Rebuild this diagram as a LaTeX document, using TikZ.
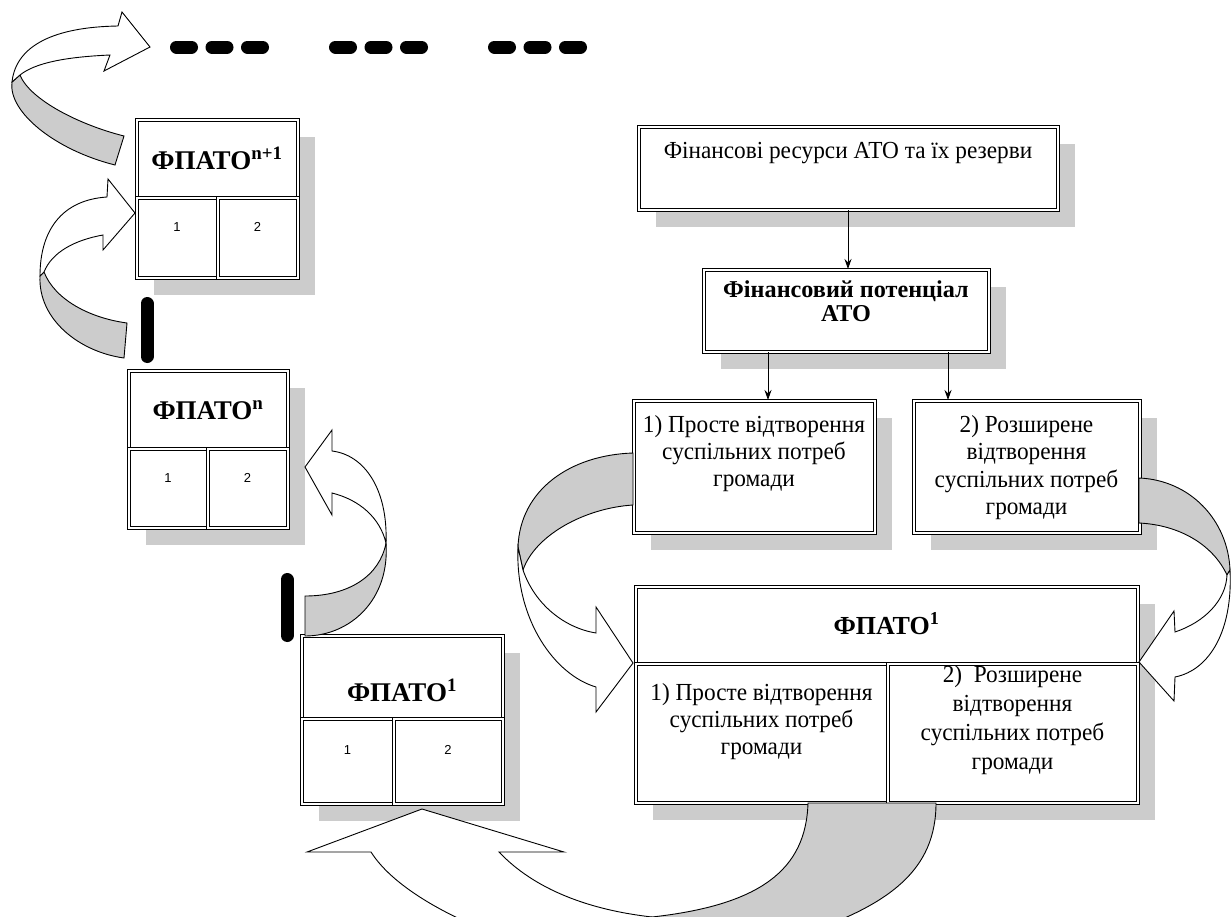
\documentclass[tikz,border=0pt]{standalone}
\usepackage{fontspec}
\setmainfont{Liberation Serif}
\newfontfamily\condfont[FakeStretch=0.95]{Liberation Serif}
\newfontfamily\numfont{Liberation Sans}
\usepackage{tikz}
\usetikzlibrary{arrows.meta,calc,positioning,shadows}
\definecolor{shadegray}{HTML}{CCCCCC}
\tikzstyle{cell} = [draw=black, line width=1pt, double=white, double distance=2pt, fill=white, inner sep=0pt, anchor=north west, drop shadow={shadow xshift=17pt, shadow yshift=-17pt, fill=shadegray, opacity=1}]
\tikzstyle{celltext} = [font=\condfont\fontsize{24.5}{27}\selectfont, align=center, inner sep=0pt]
\tikzstyle{hdlabel} = [font=\fontsize{27}{30}\selectfont\bfseries, inner sep=0pt, anchor=base]
\tikzstyle{numlabel} = [font=\numfont\fontsize{13}{15}\selectfont, inner sep=0pt]
\tikzstyle{bandback} = [fill=shadegray, draw=black, line width=0.9pt]
\tikzstyle{bandfront} = [fill=white, draw=black, line width=0.9pt]
\tikzstyle{dashbar} = [line width=13pt, line cap=round]
\tikzstyle{conn} = [line width=0.9pt, -{Stealth[length=10pt,width=7pt]}]

\begin{document}
\begin{tikzpicture}[x=1pt, y=-1pt]
  \path[use as bounding box, clip] (0,0) rectangle (1232,916);
  \fill[white] (0,0) rectangle (1232,916);

  % level n+1
  \node[cell, minimum width=161pt, minimum height=78pt] (a) at (136,119) {};
  \node[cell, minimum width=81pt, minimum height=80pt] (a1) at (136,197) {};
  \node[cell, minimum width=80pt, minimum height=80pt] (a2) at (217,197) {};
  \node[hdlabel] (at) at ($(a.south)+(0,-29)$) {ФПАТО\textsuperscript{n+1}};
  \node[numlabel, below=25pt of a1.north] (a1n) {1};
  \node[numlabel, below=25pt of a2.north] (a2n) {2};

  % level n
  \node[cell, minimum width=159pt, minimum height=78pt] (b) at (128,370) {};
  \node[cell, minimum width=79pt, minimum height=79pt] (b1) at (128,448) {};
  \node[cell, minimum width=80pt, minimum height=79pt] (b2) at (207,448) {};
  \node[hdlabel] (bt) at ($(b.south)+(0,-30)$) {ФПАТО\textsuperscript{n}};
  \node[numlabel, below=25pt of b1.north] (b1n) {1};
  \node[numlabel, below=25pt of b2.north] (b2n) {2};

  % level 1 (small)
  \node[cell, minimum width=201pt, minimum height=83pt] (c) at (301,635) {};
  \node[cell, minimum width=92pt, minimum height=85pt] (c1) at (301,718) {};
  \node[cell, minimum width=109pt, minimum height=85pt] (c2) at (393,718) {};
  \node[hdlabel] (ct) at ($(c.south)+(0,-18)$) {ФПАТО\textsuperscript{1}};
  \node[numlabel, below=27pt of c1.north] (c1n) {1};
  \node[numlabel, below=27pt of c2.north] (c2n) {2};

  % right column
  \node[cell, minimum width=419pt, minimum height=83pt] (r1) at (638,126) {};
  \node[celltext, below=16pt of r1.north] (r1t) {Фінансові ресурси АТО та їх резерви};
  \node[cell, minimum width=285pt, minimum height=82pt] (r2) at (703,269) {};
  \node[celltext, font=\fontsize{24.2}{24}\selectfont\bfseries, below=12pt of r2.north] (r2t) {Фінансовий потенціал\\АТО};
  \node[cell, minimum width=241pt, minimum height=132pt] (r3) at (633,400) {};
  \node[celltext, below=15pt of r3.north] (r3t) {1) Просте відтворення\\суспільних потреб\\громади};
  \node[cell, minimum width=226pt, minimum height=132pt] (r4) at (913,400) {};
  \node[celltext, font=\condfont\fontsize{24.5}{27.5}\selectfont, below=15pt of r4.north] (r4t) {2) Розширене\\відтворення\\суспільних потреб\\громади};

  % level 1 (big)
  \node[cell, minimum width=502pt, minimum height=77pt] (d) at (635,586) {};
  \node[cell, minimum width=252pt, minimum height=139pt] (d1) at (635,663) {};
  \node[cell, minimum width=250pt, minimum height=139pt] (d2) at (887,663) {};
  \node[hdlabel, font=\fontsize{26}{28}\selectfont\bfseries] (dt) at ($(d.south)+(0,-30)$) {ФПАТО\textsuperscript{1}};
  \node[celltext, below=20pt of d1.north] (d1t) {1) Просте відтворення\\суспільних потреб\\громади};
  \node[celltext, font=\condfont\fontsize{24.5}{29}\selectfont, below=2pt of d2.north] (d2t) {2)~~Розширене\\відтворення\\суспільних потреб\\громади};

  % connectors
  \coordinate (pl) at (768,0);
  \coordinate (pr) at (948,0);
  \draw[conn] (r1.south) -- (r1.south |- r2.north);
  \draw[conn] (r2.south -| pl) -- (r3.north -| pl);
  \draw[conn] (r2.south -| pr) -- (r4.north -| pr);

  % curved block arrows
  \filldraw[bandback] (20,75) .. controls (30,100) and (80,125) .. (124,136) -- (115,165) .. controls (55,150) and (8,112) .. (12,82) -- cycle;
  \filldraw[bandfront] (12,82) .. controls (16,45) and (55,27) .. (118,26) -- (122,12) -- (150,47) -- (104,71) -- (110,55) .. controls (65,57) and (35,63) .. (20,75) -- cycle;

  \filldraw[bandback] (44,272) .. controls (55,300) and (90,318) .. (127,323) -- (124,358) .. controls (80,352) and (38,320) .. (40,276) -- cycle;
  \filldraw[bandfront] (40,276) .. controls (40,230) and (62,200) .. (107,197) -- (108,179) -- (135,213) -- (103,250) -- (103,235) .. controls (75,240) and (52,252) .. (44,272) -- cycle;

  \filldraw[bandback] (386,543) .. controls (390,600) and (350,636) .. (305,636) -- (305,596) .. controls (350,596) and (380,575) .. (386,543) -- cycle;
  \filldraw[bandfront] (386,543) .. controls (388,490) and (365,455) .. (332,451) -- (332,430) -- (305,467) -- (332,515) -- (332,493) .. controls (360,500) and (380,518) .. (386,543) -- cycle;

  \filldraw[bandback] (633,453) .. controls (570,455) and (520,490) .. (518,547) -- (523,570) .. controls (535,535) and (585,508) .. (633,505) -- cycle;
  \filldraw[bandfront] (518,547) .. controls (515,620) and (555,675) .. (596,687) -- (596,712) -- (633,663) -- (596,607) -- (596,633) .. controls (565,628) and (535,605) .. (523,570) -- cycle;

  \filldraw[bandback] (1139,478) .. controls (1190,480) and (1228,520) .. (1230,570) -- (1227,575) .. controls (1213,545) and (1180,525) .. (1139,523) -- cycle;
  \filldraw[bandfront] (1230,570) .. controls (1233,630) and (1210,670) .. (1175,677) -- (1174,701) -- (1139,662) -- (1174,611) -- (1175,632) .. controls (1205,622) and (1226,600) .. (1227,575) -- cycle;

  \filldraw[bandback] (808,803) .. controls (806,870) and (760,905) .. (652,917) -- (700,945) -- (800,935) .. controls (890,905) and (936,870) .. (936,803) -- cycle;
  \filldraw[bandfront] (499,852) .. controls (535,890) and (590,910) .. (652,917) -- (660,950) -- (540,950) .. controls (460,925) and (395,890) .. (371,852) -- (307,852) -- (422,809) -- (564,852) -- cycle;

  % dashes
  \foreach \g in {170,329,488}
    \foreach \d in {0,35.5,71}
      \draw[dashbar] (\g+\d+6.5,47) -- (\g+\d+21.5,47);
  \draw[dashbar] (147,303.5) -- (147,356.5);
  \draw[dashbar] (287,579.5) -- (287,635.5);
\end{tikzpicture}
\end{document}
